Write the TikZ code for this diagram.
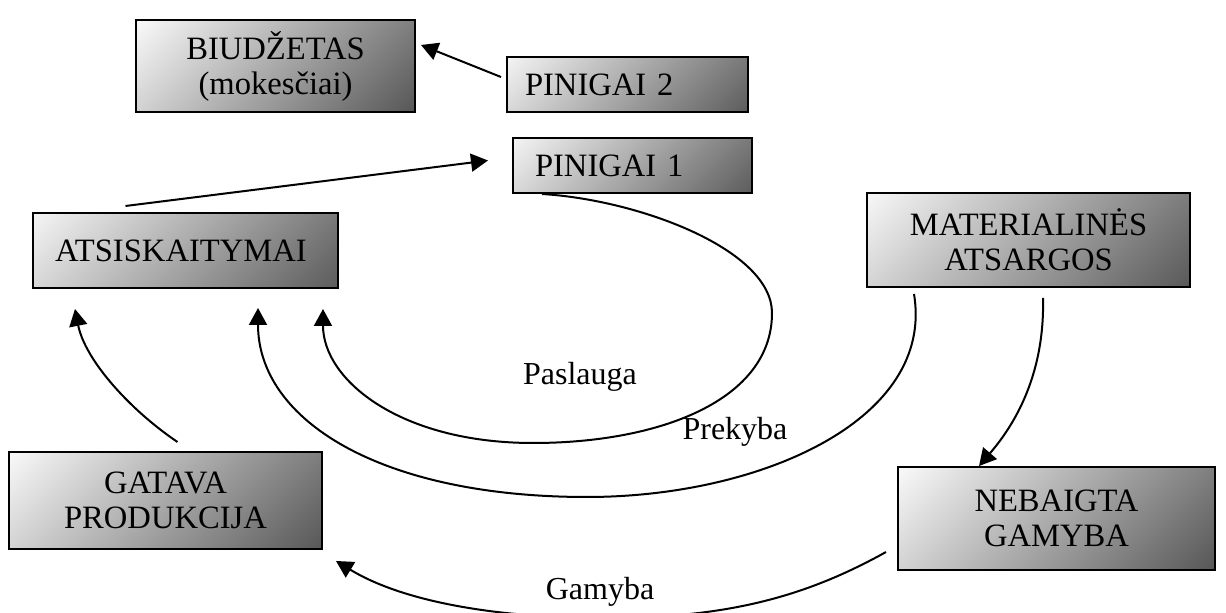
\documentclass[tikz,border=0pt]{standalone}
\usepackage{fontspec}
\setmainfont{Liberation Serif}
\usetikzlibrary{arrows.meta,calc}
\tikzset{
  blokas/.style={draw=black, line width=1pt, align=center, inner sep=0pt,
    font=\fontsize{16.3}{17.5}\selectfont,
    path picture={
      \shade[top color=white, bottom color=black!68, shading angle=45]
        let \p1=(path picture bounding box.south west), \p2=(path picture bounding box.north east),
            \n1={max(\x2-\x1,\y2-\y1)/2} in
        ({(\x1+\x2)/2-\n1},{(\y1+\y2)/2-\n1}) rectangle ({(\x1+\x2)/2+\n1},{(\y1+\y2)/2+\n1});
    }},
  rodykle/.style={line width=1pt, -{Triangle[length=8.5pt,width=9pt]}},
  zodis/.style={font=\fontsize{16}{17.5}\selectfont, inner sep=1pt}
}
\begin{document}
\begin{tikzpicture}[x=0.5pt,y=-0.5pt]
	\useasboundingbox (0,0) rectangle (1226,613);
	% blokai
	\node[blokas, minimum width=139.5pt, minimum height=46pt] (biudzetas) at (275.5,66) {BIUDŽETAS\\(mokesčiai)};
	\node[blokas, minimum height=27.5pt, inner xsep=9pt, text width=102.5pt, align=left] (pinigai2) at (627.5,84.5) {PINIGAI 2};
	\node[blokas, minimum height=27.5pt, inner xsep=11pt, text width=97.5pt, align=left] (pinigai1) at (632.5,165.5) {PINIGAI 1};
	\node[blokas, minimum height=37.5pt, inner xsep=11pt, text width=130.5pt, align=left] (atsisk) at (185.5,250.5) {ATSISKAITYMAI};
	\node[blokas, minimum width=161.5pt, minimum height=47pt] (materialines) at (1028.5,240) {MATERIALINĖS\\ATSARGOS};
	\node[blokas, minimum width=156.5pt, minimum height=48.5pt] (gatava) at (165.5,500.5) {GATAVA\\PRODUKCIJA};
	\node[blokas, minimum width=158.5pt, minimum height=51.5pt] (nebaigta) at (1056.5,518.5) {NEBAIGTA\\GAMYBA};
	% rodykles
	\draw[rodykle] ([shift={(-5,-7.5)}]pinigai2.west) -- ([shift={(5,-21)}]biudzetas.east);
	\draw[rodykle] ([shift={(-60,-6)}]atsisk.north) -- ([shift={(-24,-5)}]pinigai1.west);
	\draw[rodykle] ([shift={(30,0)}]pinigai1.south west) .. controls (640,200) and (772,250) .. (772,313)
		.. controls (772,400) and (660,443) .. (533,443)
		.. controls (400,443) and (323,380) .. ([shift={(137.5,20)}]atsisk.south);
	\draw[rodykle] ([shift={(48,6)}]materialines.south west) .. controls (935,420) and (760,497) .. (587,497)
		.. controls (380,497) and (258,420) .. ([shift={(72.5,19)}]atsisk.south);
	\draw[rodykle] ([shift={(14.5,10)}]materialines.south) .. controls (1045,380) and (1010,430) .. ([shift={(82,0)}]nebaigta.north west);
	\draw[rodykle] ([shift={(-11,33.5)}]nebaigta.west) .. controls (800,600) and (720,618) .. (605,618)
		.. controls (490,618) and (400,600) .. ([shift={(13,11)}]gatava.south east);
	\draw[rodykle] ([shift={(12,-9)}]gatava.north) .. controls (130,410) and (85,360) .. ([shift={(-110.5,20)}]atsisk.south);
	% uzrasai
	\node[zodis] (paslauga) at (580,377) {Paslauga};
	\node[zodis] (prekyba) at (735,432) {Prekyba};
	\node[zodis, fill=white] (gamyba) at (600,592) {Gamyba};
\end{tikzpicture}
\end{document}
